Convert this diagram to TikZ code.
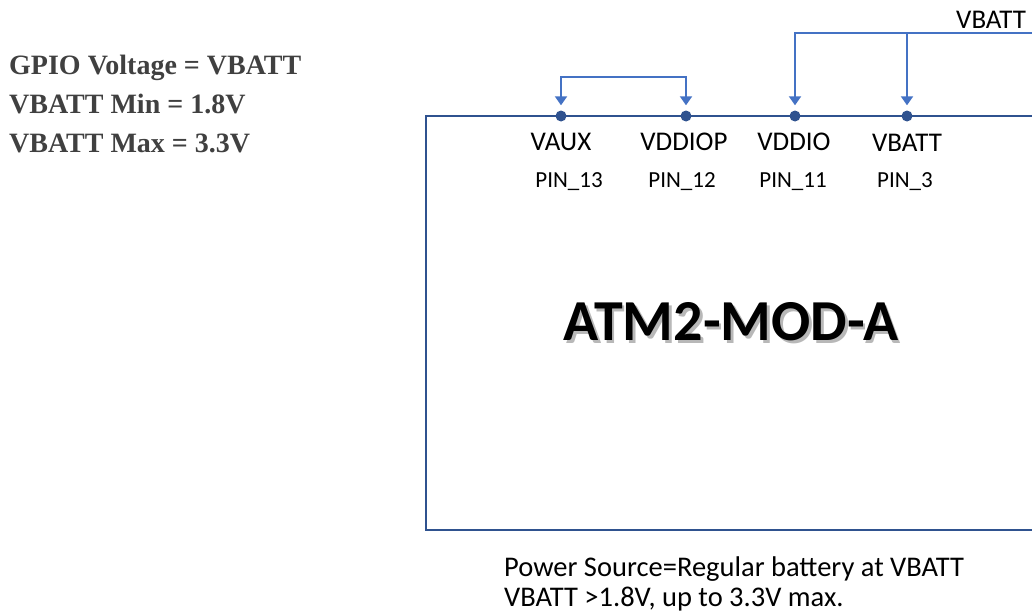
\documentclass[tikz,border=0pt]{standalone}
\usepackage{fontspec}
\setmainfont{Carlito}
\newfontfamily\notefont{Liberation Serif}
\usetikzlibrary{arrows.meta}
\definecolor{boxblue}{HTML}{2F528F}
\definecolor{wireblue}{HTML}{4472C4}
\definecolor{notegrey}{HTML}{404040}
\tikzset{
  boxline/.style={draw=boxblue, line width=2pt},
  wire/.style={draw=wireblue, line width=2pt, -{Triangle[width=12pt,length=9pt]}, shorten >=5pt},
  pindot/.style={circle, fill=boxblue, inner sep=0pt, minimum size=11pt},
  pinname/.style={font=\fontsize{27}{32}\selectfont, inner sep=0pt, anchor=base},
  pinnum/.style={font=\fontsize{23}{28}\selectfont, inner sep=0pt, anchor=base},
  note/.style={font=\notefont\bfseries\fontsize{28}{32}\selectfont, text=notegrey, anchor=base west, inner sep=0pt},
  caption/.style={font=\fontsize{28.5}{32}\selectfont, anchor=base west, inner sep=0pt},
  titletext/.style={font=\bfseries\fontsize{58}{68}\selectfont, inner sep=0pt},
}
\newcommand{\shadowed}[1]{\rlap{\raisebox{-2.5pt}{\hspace{2.5pt}\textcolor{black!28}{#1}}}#1}
\begin{document}
\begin{tikzpicture}[x=1pt,y=-1pt]
\useasboundingbox (0,0) rectangle (1032,613);
% module outline (right side cut off)
\draw[boxline] (1034,116) -- (426,116) -- (426,530) -- (1034,530);
% pins
\node[pindot] (p13) at (561,116) {};
\node[pindot] (p12) at (686,116) {};
\node[pindot] (p11) at (795,116) {};
\node[pindot] (p3) at (907,116) {};
% pin names
\node[pinname] (n13) at (561,150) {VAUX};
\node[pinname] (n12) at (684,150) {VDDIOP};
\node[pinname] (n11) at (794,150) {VDDIO};
\node[pinname] (n3) at (907,151) {VBATT};
\node[pinnum] (q13) at (569,187) {PIN\_13};
\node[pinnum] (q12) at (682,187) {PIN\_12};
\node[pinnum] (q11) at (793,187) {PIN\_11};
\node[pinnum] (q3) at (905,187) {PIN\_3};
% wires
\coordinate (top1) at (561,77);
\coordinate (top2) at (686,77);
\coordinate (mid) at (623,77);
\draw[wire] (mid) -- (top1) -- (p13);
\draw[wire] (mid) -- (top2) -- (p12);
\coordinate (vin) at (1034,33);
\coordinate (t11) at (795,33);
\coordinate (t3) at (907,33);
\draw[wire] (vin) -- (t11) -- (p11);
\draw[wire] (t3) -- (p3);
\node[pinname, anchor=base west] (vlabel) at (956,28) {VBATT};
% title with shadow
\node[titletext] (title) at (731,323) {\shadowed{ATM2-MOD-A}};
% notes
\node[note] (g1) at (9,74) {GPIO Voltage = VBATT};
\node[note] (g2) at (9,113) {VBATT Min = 1.8V};
\node[note] (g3) at (9,152) {VBATT Max = 3.3V};
% caption
\node[caption] (c1) at (504,576) {Power Source=Regular battery at VBATT};
\node[caption] (c2) at (504,606) {VBATT >1.8V, up to 3.3V max.};
\end{tikzpicture}
\end{document}
